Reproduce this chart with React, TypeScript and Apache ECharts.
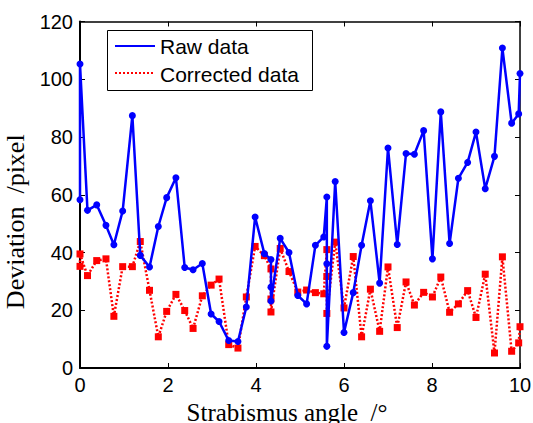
import React, { useEffect, useRef } from "react";
import * as echarts from "echarts";

const angles = [0, 0, 0.17, 0.38, 0.59, 0.77, 0.97, 1.19, 1.37, 1.58, 1.78, 1.97, 2.18, 2.38, 2.57, 2.78, 2.98, 3.16, 3.38, 3.59, 3.78, 3.98, 4.19, 4.34, 4.34, 4.34, 4.55, 4.75, 4.95, 5.15, 5.35, 5.54, 5.61, 5.61, 5.61, 5.8, 6.0, 6.21, 6.4, 6.6, 6.81, 7.0, 7.21, 7.41, 7.6, 7.81, 8.01, 8.2, 8.4, 8.6, 8.81, 9.0, 9.21, 9.42, 9.6, 9.81, 9.97, 10];

const rawData = [58.3, 105.3, 54.6, 56.5, 49.4, 42.7, 54.4, 87.4, 39.0, 35.0, 49.0, 59.0, 65.9, 34.8, 34.0, 36.2, 18.7, 16.1, 9.5, 9.2, 21.1, 52.3, 39.6, 37.6, 28.0, 23.2, 44.9, 40.0, 25.1, 22.2, 42.5, 45.4, 59.2, 36.1, 7.5, 64.6, 12.3, 26.1, 42.5, 57.9, 29.4, 76.2, 42.8, 74.3, 74.0, 82.2, 37.8, 88.7, 43.1, 65.7, 71.2, 81.7, 62.1, 73.3, 110.8, 84.8, 88.0, 102.0];

const correctedData = [35.2, 39.5, 32.0, 37.2, 37.8, 17.9, 35.1, 35.1, 43.8, 26.9, 10.8, 19.6, 25.5, 19.9, 13.7, 25.0, 28.7, 30.8, 8.1, 6.9, 24.6, 42.1, 38.9, 34.3, 23.9, 19.4, 41.4, 33.4, 26.3, 27.0, 26.1, 25.7, 41.0, 31.7, 18.9, 43.6, 20.8, 38.6, 10.8, 27.3, 12.7, 35.0, 14.0, 29.8, 21.8, 26.2, 24.6, 31.5, 19.3, 22.2, 26.8, 17.5, 32.5, 5.2, 38.5, 5.8, 8.7, 14.3];

const seriesNames = ["Raw data", "Corrected data"];
const xTitle = "Strabismus angle  /°";
const yTitle = "Deviation  /pixel";

export default function App() {
  const ref = useRef<HTMLDivElement>(null);
  useEffect(() => {
    if (!ref.current) return;
    const chart = echarts.init(ref.current, null, { renderer: "svg" });
    const sans = "'Liberation Sans', Arial, sans-serif";
    const serif = "'Liberation Serif', 'Times New Roman', serif";
    const baseX = {
      type: "value",
      min: 0,
      max: 10,
      interval: 2,
      splitLine: { show: false },
    };
    const baseY = {
      type: "value",
      min: 0,
      max: 120,
      interval: 20,
      splitLine: { show: false },
    };
    chart.setOption({
      animation: false,
      backgroundColor: "#fff",
      grid: { left: 80, right: 13, top: 21.5, bottom: 55, containLabel: false, outerBoundsMode: "none" },
      xAxis: [
        {
          ...baseX,
          position: "bottom",
          name: xTitle,
          nameLocation: "middle",
          nameGap: 29,
          nameTextStyle: { fontFamily: serif, fontSize: 25, color: "#000", padding: [0, 26, 0, 0] },
          axisLine: { onZero: false, lineStyle: { color: "#000", width: 2 } },
          axisTick: { inside: true, length: 5, lineStyle: { color: "#000", width: 1 } },
          axisLabel: { fontFamily: sans, fontSize: 20, color: "#000", margin: 7 },
        },
        {
          ...baseX,
          position: "top",
          axisLine: { onZero: false, lineStyle: { color: "#000", width: 1.5 } },
          axisTick: { inside: true, length: 5, lineStyle: { color: "#000", width: 1 } },
          axisLabel: { show: false },
        },
      ],
      yAxis: [
        {
          ...baseY,
          position: "left",
          name: yTitle,
          nameLocation: "middle",
          nameGap: 44,
          nameTextStyle: { fontFamily: serif, fontSize: 26, color: "#000", padding: [0, 54, 0, 0] },
          axisLine: { show: true, onZero: false, lineStyle: { color: "#000", width: 2 } },
          axisTick: { show: true, inside: true, length: 5, lineStyle: { color: "#000", width: 1 } },
          axisLabel: { fontFamily: sans, fontSize: 20, color: "#000", margin: 7 },
        },
        {
          ...baseY,
          position: "right",
          axisLine: { show: true, onZero: false, lineStyle: { color: "#000", width: 1.5 } },
          axisTick: { show: true, inside: true, length: 5, lineStyle: { color: "#000", width: 1 } },
          axisLabel: { show: false },
        },
      ],
      series: [
        {
          name: seriesNames[0],
          type: "line",
          xAxisIndex: 0,
          yAxisIndex: 0,
          data: angles.map((a, i) => [a, rawData[i]]),
          symbol: "circle",
          symbolSize: 7,
          itemStyle: { color: "#0000ff" },
          lineStyle: { color: "#0000ff", width: 2.5 },
          z: 3,
        },
        {
          name: seriesNames[1],
          type: "line",
          xAxisIndex: 0,
          yAxisIndex: 0,
          data: angles.map((a, i) => [a, correctedData[i]]),
          symbol: "rect",
          symbolSize: 7,
          itemStyle: { color: "#ff0000" },
          lineStyle: { color: "#ff0000", width: 2.5, type: [2, 2] },
          z: 2,
        },
      ],
      graphic: [
        {
          type: "rect",
          shape: { x: 107.5, y: 30.5, width: 205, height: 60 },
          style: { fill: "#fff", stroke: "#000", lineWidth: 1 },
          z: 10,
        },
        {
          type: "line",
          shape: { x1: 115, y1: 46, x2: 155, y2: 46 },
          style: { stroke: "#0000ff", lineWidth: 2 },
          z: 11,
        },
        {
          type: "line",
          shape: { x1: 115, y1: 73, x2: 155, y2: 73 },
          style: { stroke: "#ff0000", lineWidth: 2, lineDash: [2, 2] },
          z: 11,
        },
        {
          type: "text",
          x: 160,
          y: 46,
          style: { text: seriesNames[0], font: `21px ${sans}`, fill: "#000", verticalAlign: "middle" },
          z: 11,
        },
        {
          type: "text",
          x: 160,
          y: 74,
          style: { text: seriesNames[1], font: `21px ${sans}`, fill: "#000", verticalAlign: "middle" },
          z: 11,
        },
      ],
    });
    return () => chart.dispose();
  }, []);
  return (
    <div
      ref={ref}
      style={{ position: "fixed", left: 0, top: 0, width: 533, height: 423, background: "#fff" }}
    />
  );
}
